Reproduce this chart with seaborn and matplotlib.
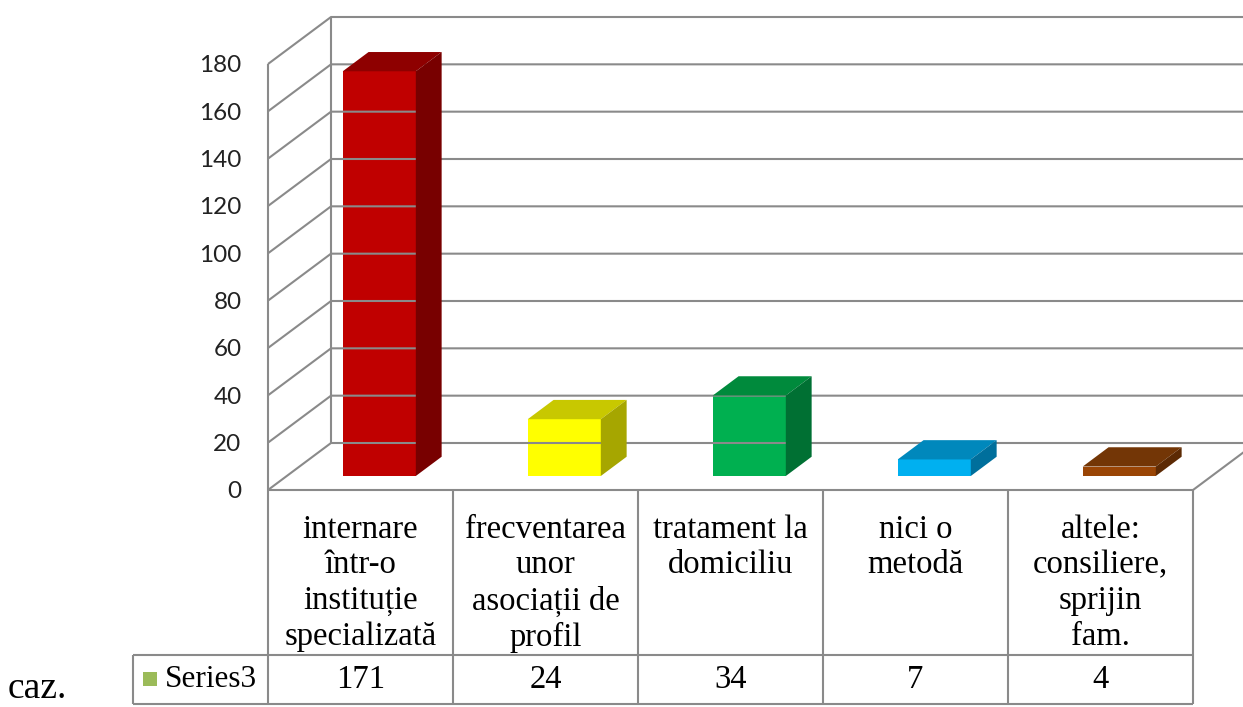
import numpy as np
import pandas as pd
import matplotlib
matplotlib.use("Agg")
import matplotlib.pyplot as plt
from matplotlib.transforms import Affine2D, IdentityTransform
from matplotlib.patches import Polygon
from matplotlib.lines import Line2D
import seaborn as sns

# ---- data ----
categories = [
    "internare\nîntr-o\ninstituție\nspecializată",
    "frecventarea\nunor\nasociații de\nprofil",
    "tratament la\ndomiciliu",
    "nici o\nmetodă",
    "altele:\nconsiliere,\nsprijin\nfam.",
]
values = [171, 24, 34, 7, 4]
series_name = "Series3"
y_ticks = [0, 20, 40, 60, 80, 100, 120, 140, 160, 180]
unit_label = "caz."

front_colors = ["#C00000", "#FFFF00", "#00B050", "#00B0F0", "#9A4505"]
top_colors = ["#8E0000", "#C8C800", "#008A3C", "#0088BC", "#733606"]
side_colors = ["#780000", "#A6A600", "#007033", "#006F9C", "#5C2A04"]
legend_color = "#9BBB59"

# ---- layout (pixels) ----
W, H = 1243, 707
sns.set_theme(style="white")
plt.rcParams["font.family"] = ["Liberation Serif", "DejaVu Serif"]

fig = plt.figure(figsize=(W / 100, H / 100), dpi=100)
ax_left, ax_right = 268, 1193
ax_top, ax_bot = 64, 490           # from top of image
ax = fig.add_axes([ax_left / W, (H - ax_bot) / H,
                   (ax_right - ax_left) / W, (ax_bot - ax_top) / H])

df = pd.DataFrame({"cat": categories, "val": values})
bar_w = 0.395
sns.barplot(data=df, x="cat", y="val", hue="cat", palette=front_colors,
            width=bar_w, saturation=1, legend=False, ax=ax, zorder=5)
ax.set_xlim(-0.5, len(categories) - 0.5)
ax.set_ylim(0, max(y_ticks))
ax.set_yticks(y_ticks)
ax.set_xticks([])
ax.set_xlabel("")
ax.set_ylabel("")
for s in ax.spines.values():
    s.set_visible(False)
ax.patch.set_alpha(0)
ax.tick_params(axis="y", length=0, pad=19)
for lab in ax.get_yticklabels():
    lab.set_fontfamily("Lato")
    lab.set_fontsize(17.5)
    lab.set_color("#222222")

# depth geometry (display pixels)
DX, DY = 63, 47                    # full depth of floor
f_front, f_depth = 0.298, 0.41     # bar front plane & bar depth fraction
bdx, bdy = DX * f_depth, DY * f_depth
fdx, fdy = DX * f_front, DY * f_front

grid_c = "#8A8A8A"
lw = 1.5
ident = IdentityTransform()

def disp(x, y):
    return ax.transData.transform((x, y))

def line(xs, ys, z=1, c=grid_c):
    fig.add_artist(Line2D(xs, ys, transform=ident, color=c, lw=lw,
                          zorder=z, solid_capstyle="butt"))

# back wall grid + left wall diagonals
for v in y_ticks:
    x0, y0 = disp(-0.5, v)
    line([x0, x0 + DX, W + 5], [y0, y0 + DY, y0 + DY])
# front axis vertical & back wall vertical
xa, ya0 = disp(-0.5, 0)
_, ya1 = disp(-0.5, max(y_ticks))
line([xa, xa], [ya0, ya1])
line([xa + DX, xa + DX], [ya0 + DY, ya1 + DY])
# floor right diagonal
xr, yr = disp(len(categories) - 0.5, 0)
line([xr, xr + DX], [yr, yr + DY])

# bars: move front faces back in depth, add top and side faces
for i, p in enumerate(ax.patches):
    p.set_transform(ax.transData + Affine2D().translate(fdx, fdy))
    p.set_clip_on(False)
    p.set_edgecolor("none")
    x0d, y0d = disp(p.get_x(), 0)
    x1d, y1d = disp(p.get_x() + p.get_width(), p.get_height())
    x0d += fdx; x1d += fdx; y0d += fdy; y1d += fdy
    top = Polygon([(x0d, y1d), (x1d, y1d), (x1d + bdx, y1d + bdy), (x0d + bdx, y1d + bdy)],
                  closed=True, transform=ident, facecolor=top_colors[i], edgecolor="none", zorder=6)
    side = Polygon([(x1d, y0d), (x1d, y1d), (x1d + bdx, y1d + bdy), (x1d + bdx, y0d + bdy)],
                   closed=True, transform=ident, facecolor=side_colors[i], edgecolor="none", zorder=6)
    fig.add_artist(top)
    fig.add_artist(side)

# ---- data table ----
row_mid = H - 655       # header/value row boundary (display y)
row_bot = H - 704
leg_left = 133
n = len(categories)
bounds = [disp(k - 0.5, 0)[0] for k in range(n + 1)]
line([bounds[0], bounds[-1]], [ya0, ya0], z=3)
line([leg_left, bounds[-1]], [row_mid, row_mid], z=3)
line([leg_left, bounds[-1]], [row_bot, row_bot], z=3)
line([leg_left, leg_left], [row_mid, row_bot], z=3)
for bx in bounds:
    line([bx, bx], [ya0, row_bot], z=3)

fs = 23.5
for k, (cat, val) in enumerate(zip(categories, values)):
    cx = (bounds[k] + bounds[k + 1]) / 2
    fig.text(cx / W, (ya0 - 24) / H, cat, ha="center", va="top",
             fontsize=fs, linespacing=1.22, color="black")
    fig.text(cx / W, (row_mid + row_bot) / 2 / H, str(val), ha="center",
             va="center", fontsize=fs, color="black")

# legend cell
sq = 14
fig.add_artist(plt.Rectangle((143, (row_mid + row_bot) / 2 - sq / 2 + 1), sq, sq,
                             transform=ident, facecolor=legend_color, edgecolor="none"))
fig.text(165 / W, (row_mid + row_bot) / 2 / H, series_name, ha="left",
         va="center", fontsize=fs - 1, color="black")

fig.text(8 / W, 1 / H, unit_label, ha="left", va="bottom", fontsize=27, color="black")

fig.savefig("out.png", dpi=100)
